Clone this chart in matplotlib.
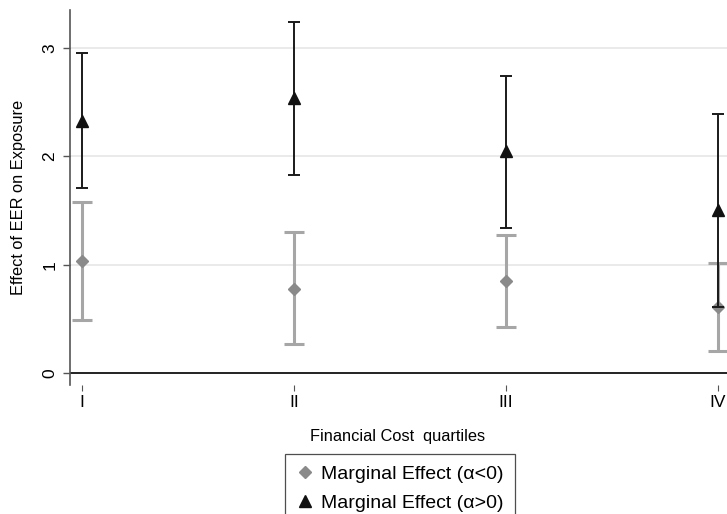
import matplotlib.pyplot as plt
from matplotlib.lines import Line2D

# 分位 (quartiles)
quartiles = ['I', 'II', 'III', 'IV']
xpos = [1, 2, 3, 4]

# alpha < 0 : gray diamonds
neg_est = [1.035, 0.78, 0.855, 0.61]
neg_lo = [0.49, 0.27, 0.43, 0.21]
neg_hi = [1.58, 1.30, 1.28, 1.02]

# alpha > 0 : black triangles
pos_est = [2.33, 2.54, 2.05, 1.505]
pos_lo = [1.71, 1.83, 1.34, 0.61]
pos_hi = [2.95, 3.24, 2.74, 2.39]

plt.rcParams['font.family'] = ['Liberation Sans', 'DejaVu Sans']

fig = plt.figure(figsize=(7.27, 5.14), dpi=100)
ax = fig.add_axes([70 / 727, 129 / 514, 1 - 70 / 727, 375 / 514])

neg_err = [[e - l for e, l in zip(neg_est, neg_lo)], [h - e for e, h in zip(neg_est, neg_hi)]]
pos_err = [[e - l for e, l in zip(pos_est, pos_lo)], [h - e for e, h in zip(pos_est, pos_hi)]]

ax.errorbar(xpos, neg_est, yerr=neg_err, fmt='none', ecolor='#a6a6a6',
            elinewidth=2.2, capsize=7.5, capthick=2.2, zorder=3)
ax.plot(xpos, neg_est, linestyle='none', marker='D', markersize=6.5,
        color='#8a8a8a', zorder=4)
ax.errorbar(xpos, pos_est, yerr=pos_err, fmt='none', ecolor='#1a1a1a',
            elinewidth=1.4, capsize=4.5, capthick=1.4, zorder=5)
ax.plot(xpos, pos_est, linestyle='none', marker='^', markersize=9,
        color='#111111', zorder=6)

ax.axhline(0, color='#222222', linewidth=1.4, zorder=2)
for g in [1, 2, 3]:
    ax.axhline(g, color='#e6e6e6', linewidth=1.2, zorder=1)

ax.set_xlim(1 - 12 / 212, 4 + 9 / 212)
ax.set_ylim(-0.107, 3.35)

ax.set_yticks([0, 1, 2, 3])
ax.set_yticklabels(['0', '1', '2', '3'], rotation=90, va='center', fontsize=12.5)
ax.set_xticks(xpos)
ax.set_xticklabels(quartiles, fontsize=12.5)
ax.tick_params(axis='y', length=5, width=1, color='#555555', pad=4)
ax.tick_params(axis='x', length=4, width=0.8, color='#555555', pad=3, direction='out')

for s in ['top', 'right', 'bottom']:
    ax.spines[s].set_visible(False)
ax.spines['left'].set_color('#555555')
ax.spines['left'].set_linewidth(1.2)

ax.set_ylabel('Effect of EER on Exposure', fontsize=11.8)
ax.yaxis.set_label_coords(-44 / 657, 0.5)
fig.text(398 / 727, (514 - 436) / 514, 'Financial Cost  quartiles',
         ha='center', va='center', fontsize=11.8)

handles = [
    Line2D([], [], linestyle='none', marker='D', markersize=6.5, color='#8a8a8a',
           label='Marginal Effect (\u03b1<0)'),
    Line2D([], [], linestyle='none', marker='^', markersize=8, color='#111111',
           label='Marginal Effect (\u03b1>0)'),
]
leg = fig.legend(handles=handles, loc='upper center',
                 bbox_to_anchor=(400 / 727, (514 - 454) / 514),
                 fontsize=14, frameon=True, fancybox=False, edgecolor='#222222',
                 handletextpad=0.35, handlelength=0.9, borderpad=0.6,
                 labelspacing=0.55, borderaxespad=0)
leg.get_frame().set_linewidth(0.9)

fig.savefig('out.png', dpi=100)
